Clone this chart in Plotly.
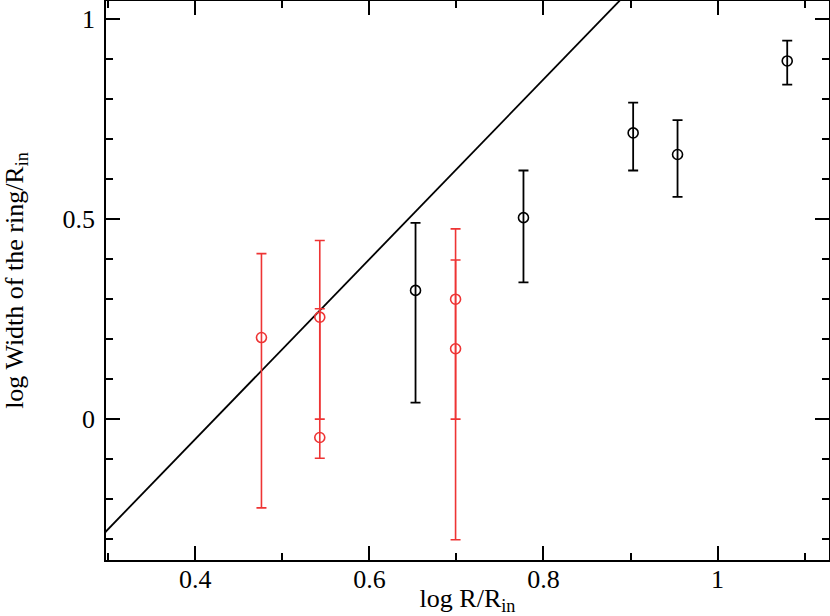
import plotly.graph_objects as go

# Black data points
black_x = [0.653, 0.777, 0.903, 0.954, 1.080]
black_y = [0.322, 0.504, 0.716, 0.662, 0.896]
black_hi = [0.491, 0.622, 0.792, 0.748, 0.947]
black_lo = [0.041, 0.342, 0.622, 0.556, 0.837]

# Red data points
red_x = [0.476, 0.543, 0.543, 0.699, 0.699]
red_y = [0.204, 0.255, -0.046, 0.300, 0.176]
red_hi = [0.414, 0.447, 0.276, 0.476, 0.398]
red_lo = [-0.222, 0.000, -0.098, 0.000, -0.302]

# Model line
line_x = [0.29, 0.90]
line_y = [-0.2975, 1.075]

RED = "rgb(238,52,52)"
BLACK = "black"
FAM = "Liberation Serif"

def errs(y, hi, lo):
    return [h - v for v, h in zip(y, hi)], [v - l for v, l in zip(y, lo)]

fig = go.Figure()
fig.add_trace(go.Scatter(x=line_x, y=line_y, mode="lines",
                         line=dict(color=BLACK, width=1.8), showlegend=False))
bp, bm = errs(black_y, black_hi, black_lo)
fig.add_trace(go.Scatter(x=black_x, y=black_y, mode="markers",
                         marker=dict(symbol="circle-open", size=10, color=BLACK,
                                     line=dict(width=1.6, color=BLACK)),
                         error_y=dict(type="data", symmetric=False, array=bp, arrayminus=bm,
                                      color=BLACK, thickness=1.8, width=5),
                         showlegend=False))
rp, rm = errs(red_y, red_hi, red_lo)
fig.add_trace(go.Scatter(x=red_x, y=red_y, mode="markers",
                         marker=dict(symbol="circle-open", size=10, color=RED,
                                     line=dict(width=1.6, color=RED)),
                         error_y=dict(type="data", symmetric=False, array=rp, arrayminus=rm,
                                      color=RED, thickness=1.6, width=5),
                         showlegend=False))

def axis(rng, dtick, title, standoff, lstand):
    return dict(range=rng, dtick=dtick, tick0=0, ticks="inside", ticklen=14,
                tickwidth=1.6, tickcolor="black", showline=True, linecolor="black",
                linewidth=1.8, mirror="ticks", showgrid=False, zeroline=False,
                minor=dict(dtick=0.1, ticks="inside", ticklen=7, tickwidth=1.6,
                           tickcolor="black", showgrid=False),
                title=dict(text=title, standoff=standoff,
                           font=dict(family=FAM, size=26, color="black")),
                tickfont=dict(family=FAM, size=26, color="black"),
                ticklabelstandoff=lstand,
                automargin=False)

fig.update_layout(
    width=830, height=616,
    margin=dict(l=106, r=1, t=1, b=56),
    plot_bgcolor="white", paper_bgcolor="white",
    font=dict(family=FAM, size=26, color="black"),
    xaxis=axis([0.2974, 1.128], 0.2, "log R/R<sub>in</sub>", 0, -5),
    yaxis=axis([-0.3525, 1.046], 0.5, "log Width of the ring/R<sub>in</sub>", 36, 4),
)
fig.write_html("out.html", config={"displayModeBar": False},
               post_script="document.body.style.margin='0';")
